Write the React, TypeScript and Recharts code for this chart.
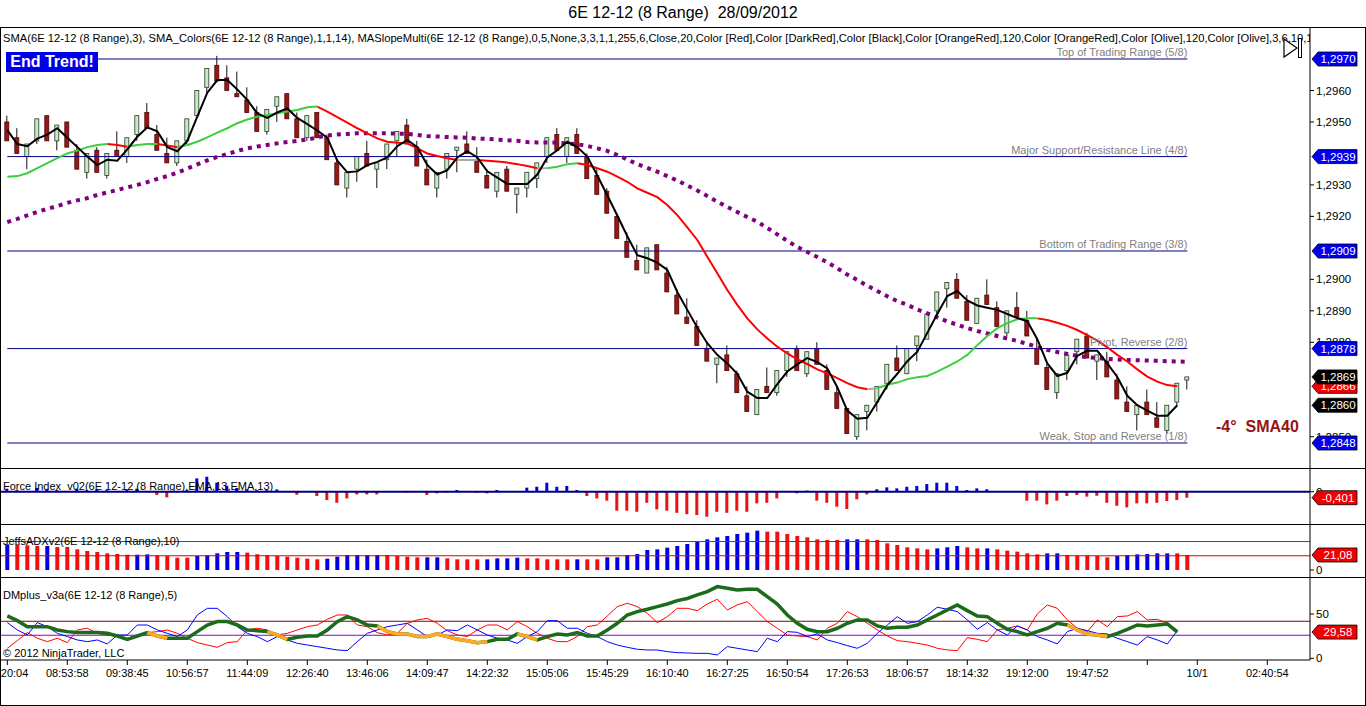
import React from "react";
import {
  ComposedChart,
  Bar,
  Line,
  XAxis,
  YAxis,
  Cell,
  ReferenceLine,
  ReferenceDot,
} from "recharts";

const FONT = '"Liberation Sans", Arial, sans-serif';
const W = 1366;
const X_MIN = -0.73;
const X_MAX = 130.27;

// range bars: [open, high, low, close]
const candles: [number, number, number, number][] = [
  [1.2950, 1.2952, 1.2944, 1.2944], [1.2945, 1.2948, 1.2940, 1.2940], [1.2939, 1.2943, 1.2935, 1.2943],
  [1.2944, 1.2951, 1.2943, 1.2951], [1.2952, 1.2952, 1.2944, 1.2944], [1.2944, 1.2949, 1.2941, 1.2949],
  [1.2950, 1.2950, 1.2942, 1.2942], [1.2941, 1.2943, 1.2935, 1.2935], [1.2934, 1.2940, 1.2932, 1.2940],
  [1.2941, 1.2942, 1.2934, 1.2934], [1.2933, 1.2940, 1.2932, 1.2940], [1.2941, 1.2947, 1.2939, 1.2939],
  [1.2939, 1.2945, 1.2937, 1.2945], [1.2946, 1.2952, 1.2944, 1.2952], [1.2953, 1.2956, 1.2948, 1.2948],
  [1.2946, 1.2949, 1.2941, 1.2941], [1.2940, 1.2945, 1.2937, 1.2937], [1.2937, 1.2944, 1.2936, 1.2944],
  [1.2944, 1.2951, 1.2943, 1.2951], [1.2952, 1.2960, 1.2952, 1.2960], [1.2961, 1.2967, 1.2959, 1.2967],
  [1.2968, 1.2971, 1.2963, 1.2963], [1.2964, 1.2968, 1.2960, 1.2960], [1.2959, 1.2966, 1.2958, 1.2958],
  [1.2957, 1.2961, 1.2953, 1.2953], [1.2953, 1.2955, 1.2947, 1.2947], [1.2947, 1.2954, 1.2946, 1.2954],
  [1.2955, 1.2958, 1.2950, 1.2958], [1.2959, 1.2959, 1.2951, 1.2951], [1.2951, 1.2953, 1.2945, 1.2945],
  [1.2945, 1.2952, 1.2944, 1.2952], [1.2953, 1.2953, 1.2945, 1.2945], [1.2945, 1.2946, 1.2938, 1.2938],
  [1.2937, 1.2938, 1.2930, 1.2930], [1.2929, 1.2934, 1.2926, 1.2934], [1.2935, 1.2939, 1.2931, 1.2939],
  [1.2940, 1.2944, 1.2936, 1.2936], [1.2935, 1.2937, 1.2929, 1.2937], [1.2938, 1.2943, 1.2935, 1.2943],
  [1.2944, 1.2947, 1.2939, 1.2947], [1.2949, 1.2951, 1.2943, 1.2943], [1.2942, 1.2944, 1.2936, 1.2936],
  [1.2935, 1.2938, 1.2930, 1.2930], [1.2929, 1.2934, 1.2926, 1.2934], [1.2935, 1.2940, 1.2932, 1.2940],
  [1.2941, 1.2942, 1.2934, 1.2942], [1.2943, 1.2947, 1.2940, 1.2940], [1.2938, 1.2942, 1.2934, 1.2934],
  [1.2933, 1.2935, 1.2929, 1.2929], [1.2928, 1.2934, 1.2926, 1.2934], [1.2935, 1.2936, 1.2928, 1.2928],
  [1.2927, 1.2929, 1.2921, 1.2929], [1.2929, 1.2934, 1.2926, 1.2934], [1.2932, 1.2937, 1.2929, 1.2937],
  [1.2939, 1.2945, 1.2937, 1.2945], [1.2946, 1.2948, 1.2941, 1.2941], [1.2939, 1.2945, 1.2937, 1.2945],
  [1.2946, 1.2948, 1.2940, 1.2940], [1.2939, 1.2940, 1.2932, 1.2932], [1.2933, 1.2935, 1.2927, 1.2927],
  [1.2928, 1.2929, 1.2921, 1.2921], [1.2920, 1.2921, 1.2913, 1.2913], [1.2912, 1.2915, 1.2907, 1.2907],
  [1.2906, 1.2911, 1.2903, 1.2903], [1.2902, 1.2910, 1.2902, 1.2910], [1.2911, 1.2911, 1.2903, 1.2903],
  [1.2902, 1.2904, 1.2896, 1.2896], [1.2895, 1.2897, 1.2889, 1.2889], [1.2888, 1.2894, 1.2886, 1.2886],
  [1.2885, 1.2887, 1.2879, 1.2879], [1.2878, 1.2880, 1.2874, 1.2874], [1.2873, 1.2875, 1.2867, 1.2875],
  [1.2876, 1.2879, 1.2871, 1.2871], [1.2870, 1.2871, 1.2864, 1.2864], [1.2863, 1.2866, 1.2858, 1.2858],
  [1.2857, 1.2865, 1.2857, 1.2865], [1.2866, 1.2872, 1.2864, 1.2864], [1.2864, 1.2871, 1.2863, 1.2871],
  [1.2871, 1.2877, 1.2869, 1.2877], [1.2878, 1.2879, 1.2871, 1.2871], [1.2870, 1.2877, 1.2869, 1.2877],
  [1.2878, 1.2880, 1.2873, 1.2873], [1.2871, 1.2873, 1.2865, 1.2865], [1.2864, 1.2866, 1.2859, 1.2859],
  [1.2859, 1.2859, 1.2851, 1.2851], [1.2850, 1.2857, 1.2849, 1.2857], [1.2858, 1.2860, 1.2852, 1.2860],
  [1.2861, 1.2866, 1.2858, 1.2866], [1.2867, 1.2873, 1.2865, 1.2873], [1.2875, 1.2879, 1.2871, 1.2871],
  [1.2870, 1.2878, 1.2870, 1.2878], [1.2879, 1.2882, 1.2874, 1.2882], [1.2881, 1.2889, 1.2881, 1.2889],
  [1.2890, 1.2896, 1.2888, 1.2896], [1.2897, 1.2899, 1.2891, 1.2899], [1.2900, 1.2902, 1.2894, 1.2894],
  [1.2893, 1.2895, 1.2887, 1.2887], [1.2886, 1.2894, 1.2886, 1.2894], [1.2895, 1.2900, 1.2892, 1.2892],
  [1.2891, 1.2893, 1.2885, 1.2885], [1.2883, 1.2890, 1.2882, 1.2890], [1.2891, 1.2896, 1.2888, 1.2888],
  [1.2887, 1.2890, 1.2882, 1.2882], [1.2878, 1.2881, 1.2873, 1.2873], [1.2872, 1.2873, 1.2865, 1.2865],
  [1.2864, 1.2870, 1.2862, 1.2870], [1.2871, 1.2876, 1.2868, 1.2876], [1.2877, 1.2881, 1.2873, 1.2881],
  [1.2882, 1.2883, 1.2875, 1.2875], [1.2874, 1.2876, 1.2868, 1.2876], [1.2874, 1.2877, 1.2869, 1.2869],
  [1.2868, 1.2870, 1.2862, 1.2862], [1.2861, 1.2866, 1.2858, 1.2858], [1.2857, 1.2860, 1.2852, 1.2860],
  [1.2861, 1.2865, 1.2857, 1.2857], [1.2856, 1.2861, 1.2853, 1.2853], [1.2852, 1.2860, 1.2851, 1.2860],
  [1.2861, 1.2867, 1.2860, 1.2867], [1.2868, 1.2869, 1.2865, 1.2869],
];

const sma3: (number | null)[] = [
  1.29474, 1.2943, 1.29423, 1.29447, 1.2946, 1.2948, 1.2945, 1.2942, 1.2939, 1.29363,
  1.2938, 1.29377, 1.29413, 1.29453, 1.29483, 1.2947, 1.2942, 1.29407, 1.2944, 1.29517,
  1.29593, 1.29633, 1.29633, 1.29603, 1.2957, 1.29527, 1.29513, 1.2953, 1.29543, 1.29513,
  1.29493, 1.29473, 1.2945, 1.29377, 1.2934, 1.29343, 1.29363, 1.29373, 1.29387, 1.29423,
  1.29443, 1.2942, 1.29363, 1.29333, 1.29347, 1.29387, 1.29407, 1.29387, 1.29343, 1.29323,
  1.29303, 1.29303, 1.29303, 1.29333, 1.29387, 1.2941, 1.29437, 1.2942, 1.2939, 1.2933,
  1.29267, 1.29203, 1.29137, 1.29077, 1.29067, 1.29053, 1.2903, 1.2896, 1.28903, 1.28847,
  1.28797, 1.2876, 1.28733, 1.287, 1.28643, 1.28623, 1.28623, 1.28667, 1.28707, 1.2873,
  1.2875, 1.28737, 1.28717, 1.28657, 1.28583, 1.28557, 1.2856, 1.2861, 1.28663, 1.287,
  1.2874, 1.2877, 1.2883, 1.2889, 1.28947, 1.28963, 1.28933, 1.28917, 1.2891, 1.28903,
  1.2889, 1.28877, 1.28867, 1.2881, 1.28733, 1.28693, 1.28703, 1.28757, 1.28773, 1.28773,
  1.28733, 1.2869, 1.2863, 1.286, 1.28583, 1.28567, 1.28567, 1.286, null,
];

const sma14: (number | null)[] = [
  1.29326, 1.29328, 1.29337, 1.29353, 1.29369, 1.29385, 1.294, 1.29409, 1.2942, 1.29427,
  1.2943, 1.29427, 1.29421, 1.29427, 1.2943, 1.2943, 1.29425, 1.2942, 1.29427, 1.29437,
  1.29451, 1.29466, 1.2948, 1.29496, 1.29508, 1.29517, 1.29522, 1.29528, 1.29533, 1.29538,
  1.29547, 1.29549, 1.29533, 1.29515, 1.29498, 1.2948, 1.29464, 1.29448, 1.29437, 1.29434,
  1.29432, 1.29416, 1.294, 1.29392, 1.29385, 1.29379, 1.29379, 1.29379, 1.29377, 1.29374,
  1.29371, 1.29366, 1.2936, 1.29353, 1.29353, 1.29358, 1.29366, 1.29369, 1.29363, 1.29353,
  1.29342, 1.29326, 1.2931, 1.29289, 1.29275, 1.29261, 1.29236, 1.29204, 1.29165, 1.29125,
  1.29072, 1.29019, 1.28966, 1.28919, 1.28876, 1.28841, 1.28812, 1.28786, 1.28765, 1.28746,
  1.28731, 1.28714, 1.28701, 1.28686, 1.2867, 1.28657, 1.28651, 1.28654, 1.28665, 1.28672,
  1.28683, 1.28689, 1.28693, 1.28707, 1.28723, 1.28739, 1.2876, 1.28791, 1.2882, 1.28845,
  1.28861, 1.28873, 1.28876, 1.28876, 1.28871, 1.28862, 1.28852, 1.28839, 1.28823, 1.28805,
  1.28784, 1.2876, 1.28739, 1.28714, 1.28691, 1.28675, 1.28664, 1.2866, null,
];
const smaGreenRuns = [[0, 10], [12, 15], [17, 31], [54, 57], [87, 103]];
const smaRedRuns = [[10, 12], [15, 17], [31, 45], [47, 53], [57, 86], [103, 117]];
const smaGrayRuns = [[45, 47], [53, 54], [86, 87]];

const sma40: number[] = [
  1.29182, 1.29192, 1.29203, 1.29214, 1.29224, 1.29233, 1.29243, 1.29251, 1.29258, 1.29268,
  1.29276, 1.29284, 1.29292, 1.293, 1.29309, 1.29319, 1.29328, 1.29339, 1.29352, 1.29365,
  1.29378, 1.29389, 1.29398, 1.29408, 1.29416, 1.29422, 1.29427, 1.29432, 1.29436, 1.2944,
  1.29444, 1.29451, 1.29457, 1.2946, 1.29462, 1.29464, 1.29464, 1.29464, 1.29464, 1.29463,
  1.29462, 1.29459, 1.29455, 1.29454, 1.29452, 1.29451, 1.2945, 1.29447, 1.29446, 1.29444,
  1.29442, 1.2944, 1.29436, 1.29435, 1.29435, 1.29434, 1.29432, 1.29429, 1.29424, 1.29416,
  1.29408, 1.29395, 1.29381, 1.29366, 1.29354, 1.29342, 1.29328, 1.29314, 1.29298, 1.29282,
  1.29265, 1.29247, 1.2923, 1.29214, 1.29198, 1.29183, 1.29163, 1.29143, 1.29122, 1.29103,
  1.29087, 1.29071, 1.29054, 1.29035, 1.29015, 1.28998, 1.2898, 1.28963, 1.28946, 1.28931,
  1.28919, 1.28904, 1.28892, 1.28879, 1.28866, 1.28856, 1.28845, 1.28836, 1.28828, 1.2882,
  1.28812, 1.28804, 1.28795, 1.28785, 1.28776, 1.28769, 1.28763, 1.28757, 1.28753, 1.2875,
  1.28747, 1.28745, 1.28744, 1.28743, 1.28742, 1.28741, 1.2874, 1.28739, 1.28738,
];

const levels = [
  { value: 1.297, label: "Top of Trading Range (5/8)" },
  { value: 1.2939, label: "Major Support/Resistance Line (4/8)" },
  { value: 1.2909, label: "Bottom of Trading Range (3/8)" },
  { value: 1.2878, label: "Pivot, Reverse (2/8)" },
  { value: 1.2848, label: "Weak, Stop and Reverse (1/8)" },
];
// axis ticks left visible around the price flags
const priceTicks = [1.285, 1.288, 1.289, 1.29, 1.292, 1.293, 1.295, 1.296];

const force: number[] = [
  0.2, 0.1, 0.05, 0.25, 0.15, 0.1, 0.05, 0.2, 0.1, 0.15,
  0.1, 0.05, 0.15, 0.2, 0.05, -0.22, -0.38, -0.05, 0.1, 0.89,
  1.0, 0.6, 0.4, 0.25, 0.15, 0.1, 0.1, 0.15, 0.02, -0.2,
  -0.02, -0.29, -0.56, -0.74, -0.45, -0.18, -0.18, -0.18, -0.02, 0,
  -0.05, -0.02, -0.22, -0.11, -0.05, 0.11, -0.02, -0.07, -0.11, 0.11,
  0.02, -0.02, 0.27, 0.33, 0.6, 0.33, 0.38, 0.11, -0.29, -0.45,
  -0.6, -1.27, -1.27, -1.34, -0.74, -1.18, -1.27, -1.41, -1.5, -1.56,
  -1.67, -1.34, -1.41, -1.27, -1.34, -0.78, -0.74, -0.45, 0, -0.11,
  0.07, -0.6, -0.74, -1.0, -1.16, -0.51, -0.18, 0.16, 0.29, 0.22,
  0.33, 0.38, 0.51, 0.6, 0.6, 0.38, 0.11, 0.22, 0.16, 0.02,
  0, 0, -0.6, -0.6, -0.85, -0.6, -0.29, -0.22, -0.33, -0.27,
  -0.74, -0.94, -1.05, -0.78, -0.78, -0.74, -0.62, -0.56, -0.401,
];

const adx: number[] = [
  36.1, 36.1, 34.7, 33.7, 33.7, 32.3, 32.3, 29.0, 26.7, 25.3,
  23.4, 22.5, 21.5, 21.5, 22.0, 20.6, 19.7, 17.3, 17.3, 19.7,
  20.6, 23.4, 25.3, 25.3, 24.4, 22.0, 20.6, 19.7, 18.7, 17.3,
  15.9, 15.0, 15.9, 18.7, 21.1, 21.1, 21.1, 21.1, 21.1, 19.7,
  18.7, 17.8, 17.8, 17.8, 16.4, 15.0, 15.0, 15.0, 15.0, 16.4,
  16.4, 17.3, 16.4, 16.4, 15.0, 15.0, 15.0, 15.0, 15.0, 15.0,
  17.8, 17.8, 21.1, 22.5, 28.1, 29.0, 31.4, 33.7, 36.5, 39.8,
  43.1, 45.9, 47.8, 50.6, 52.5, 55.3, 53.9, 53.9, 50.6, 47.8,
  45.9, 43.1, 42.2, 42.2, 43.1, 43.1, 43.1, 42.2, 37.5, 35.1,
  31.9, 30.4, 29.0, 30.4, 31.9, 33.7, 31.9, 30.4, 30.4, 29.0,
  27.2, 25.8, 23.4, 22.0, 23.4, 23.4, 21.1, 20.1, 20.1, 19.7,
  17.8, 19.7, 21.1, 22.0, 22.5, 23.4, 23.4, 23.4, 21.08,
];
// 1 = blue bar, 0 = red bar
const adxBlue: number[] = [
  1, 0, 0, 0, 1, 0, 0, 0, 0, 0,
  0, 0, 0, 1, 1, 0, 0, 0, 0, 1,
  1, 1, 1, 1, 0, 0, 0, 0, 0, 0,
  0, 0, 1, 1, 1, 1, 1, 1, 0, 0,
  0, 0, 1, 1, 0, 0, 0, 0, 1, 1,
  1, 1, 0, 0, 0, 0, 0, 1, 0, 0,
  1, 1, 1, 1, 1, 1, 1, 1, 1, 1,
  1, 1, 1, 1, 1, 1, 0, 0, 0, 0,
  0, 0, 0, 0, 1, 1, 0, 0, 0, 0,
  0, 0, 0, 1, 1, 1, 0, 0, 1, 0,
  0, 0, 0, 0, 1, 1, 0, 0, 0, 0,
  0, 1, 1, 1, 1, 1, 1, 0, 0,
];

const dmBlue: (number | null)[] = [
  40.3, 32.0, 26.3, 40.3, 35.7, 28.2, 24.5, 20.7, 18.8, 20.7,
  16.2, 26.3, 26.3, 37.6, 37.6, 32.0, 28.2, 24.5, 32.0, 48.9,
  56.4, 56.4, 47.0, 35.7, 28.2, 24.5, 18.8, 24.5, 20.7, 16.9,
  15.0, 13.2, 11.3, 9.4, 8.7, 18.8, 28.2, 32.0, 35.7, 37.6,
  39.5, 32.0, 24.5, 26.3, 32.0, 31.2, 37.6, 32.0, 26.3, 22.6,
  20.7, 16.9, 24.5, 30.1, 42.5, 42.5, 33.9, 33.9, 28.2, 24.5,
  18.8, 15.0, 12.4, 10.2, 9.4, 9.4, 7.5, 6.4, 6.0, 5.6,
  5.6, 3.8, 13.2, 11.3, 9.4, 7.5, 22.6, 18.8, 30.1, 29.3,
  24.5, 27.5, 20.7, 17.7, 14.3, 11.3, 16.9, 28.2, 37.6, 47.0,
  39.5, 41.4, 48.9, 57.6, 55.3, 52.7, 43.3, 32.7, 40.3, 32.0,
  26.3, 36.5, 32.0, 24.5, 20.7, 16.2, 30.1, 33.9, 31.2, 28.2,
  27.5, 22.6, 18.8, 15.0, 24.5, 20.7, 16.2, 31.2, null,
];
const dmRed: (number | null)[] = [
  11.3, 19.9, 29.0, 22.6, 18.8, 22.6, 17.7, 32.0, 33.9, 28.2,
  26.3, 24.5, 20.7, 24.5, 29.0, 30.1, 32.0, 28.2, 22.6, 17.7,
  15.0, 12.4, 17.7, 18.8, 32.0, 33.9, 32.0, 26.3, 28.2, 32.0,
  35.7, 37.6, 44.0, 48.9, 48.9, 37.6, 35.7, 29.0, 26.3, 28.2,
  39.5, 43.3, 45.1, 39.5, 31.2, 26.3, 24.5, 32.0, 37.6, 37.6,
  32.0, 41.4, 35.7, 28.2, 22.6, 18.8, 18.8, 24.5, 35.7, 37.6,
  47.8, 58.3, 62.1, 58.3, 50.8, 40.3, 47.0, 56.4, 56.4, 53.8,
  61.3, 66.6, 54.6, 60.2, 64.0, 52.7, 41.4, 33.9, 26.3, 25.2,
  24.5, 20.7, 33.9, 39.5, 52.7, 47.0, 39.5, 32.0, 25.2, 19.9,
  18.8, 16.9, 15.0, 11.3, 9.4, 8.7, 23.3, 21.4, 18.8, 32.0,
  33.9, 36.5, 32.0, 50.0, 60.2, 56.4, 43.3, 33.9, 30.1, 43.3,
  35.7, 47.0, 47.8, 52.7, 43.3, 44.0, 39.5, 32.0, null,
];
const dmGreen: (number | null)[] = [
  47.8, 42.5, 35.7, 35.7, 35.7, 32.0, 30.1, 29.0, 29.0, 29.0,
  28.2, 25.2, 21.4, 25.2, 29.0, 25.2, 22.6, 22.6, 22.6, 30.1,
  37.6, 41.4, 41.4, 37.6, 32.0, 31.2, 30.1, 26.3, 21.4, 23.7,
  25.2, 25.2, 32.0, 41.4, 47.0, 43.3, 37.6, 36.5, 30.1, 27.5,
  27.5, 24.5, 24.5, 27.5, 24.5, 21.4, 19.9, 17.7, 18.8, 21.4,
  21.4, 27.5, 24.5, 20.7, 24.5, 27.5, 26.3, 29.0, 25.2, 25.2,
  32.0, 39.5, 48.9, 52.7, 55.3, 58.3, 61.3, 65.1, 67.5, 71.5,
  75.2, 80.9, 79.0, 77.1, 77.9, 77.9, 69.6, 61.3, 48.9, 39.5,
  32.7, 30.1, 30.1, 33.9, 39.5, 43.3, 43.3, 36.5, 33.9, 35.0,
  35.0, 37.6, 43.3, 48.9, 54.6, 60.2, 53.8, 47.8, 47.0, 39.5,
  32.7, 30.1, 26.3, 30.1, 33.9, 39.5, 37.6, 32.0, 27.5, 26.3,
  24.5, 28.2, 32.7, 37.6, 36.5, 37.6, 38.8, 29.58, null,
];
const dmOrangeRuns = [[14, 16], [26, 28], [37, 39], [40, 42], [43, 48], [51, 53], [106, 110]];

const timeTicks = [0, 6, 12, 18, 24, 30, 36, 42, 48, 54, 60, 66, 72, 78, 84, 90, 96, 102, 108, 114, 119, 126];
const timeLabels = [
  "20:04", "08:53:58", "09:38:45", "10:56:57", "11:44:09", "12:26:40", "13:46:06", "14:09:47",
  "14:22:32", "15:05:06", "15:45:29", "16:10:40", "16:27:25", "16:50:54", "17:26:53", "18:06:57",
  "18:14:32", "19:12:00", "19:47:52", "", "10/1", "02:40:54",
];

const inRuns = (i: number, runs: number[][]) => runs.some(([a, b]) => i >= a && i <= b);

const rows = candles.map((c, i) => ({
  i,
  open: c[0],
  high: c[1],
  low: c[2],
  close: c[3],
  sma3: sma3[i],
  smaG: inRuns(i, smaGreenRuns) ? sma14[i] : null,
  smaR: inRuns(i, smaRedRuns) ? sma14[i] : null,
  smaY: inRuns(i, smaGrayRuns) ? sma14[i] : null,
  sma40: sma40[i],
  force: force[i],
  adx: adx[i],
  dmBlue: dmBlue[i],
  dmRed: dmRed[i],
  dmGreen: dmGreen[i],
  dmOrange: inRuns(i, dmOrangeRuns) ? dmGreen[i] : null,
}));

const comma = (v: number, d: number) => v.toFixed(d).replace(".", ",");

const PRICE_DOMAIN = [1.284006, 1.298017];
const FORCE_DOMAIN = [-2.158, 1.516];
const ADX_DOMAIN = [-9.84, 63.24];
const DM_DOMAIN = [-1.92, 90.63];

const Candle = (p: any) => {
  const { x, y, width, height, payload } = p;
  const top = Math.min(y, y + height);
  const h = Math.abs(height);
  const span = payload.high - payload.low;
  const toY = (v: number) => top + (span === 0 ? 0 : ((payload.high - v) / span) * h);
  const cx = x + width / 2;
  const up = payload.close > payload.open;
  const b0 = toY(Math.max(payload.open, payload.close));
  const b1 = toY(Math.min(payload.open, payload.close));
  return (
    <g>
      <line x1={cx} x2={cx} y1={top} y2={top + h} stroke="#111" strokeWidth={1} />
      <rect
        x={cx - 2}
        y={b0}
        width={4}
        height={Math.max(1, b1 - b0)}
        fill={up ? "#c6ecc6" : "#9c1616"}
        stroke={up ? "#2a3a2a" : "#4a0808"}
        strokeWidth={0.8}
      />
    </g>
  );
};

const flag = (text: string, fill: string) => (p: any) => {
  const x0 = p.cx + 2;
  const cy = p.cy;
  return (
    <g>
      <polygon
        points={`${x0},${cy} ${x0 + 6},${cy - 7} ${x0 + 45},${cy - 7} ${x0 + 45},${cy + 7} ${x0 + 6},${cy + 7}`}
        fill={fill}
        stroke="#000"
        strokeWidth={0.8}
      />
      <text x={x0 + 26} y={cy + 4} textAnchor="middle" fill="#fff" fontSize={11.5} fontFamily={FONT}>
        {text}
      </text>
    </g>
  );
};

const levelLabel = (text: string) => (p: any) => (
  <text x={p.cx} y={p.cy - 3} textAnchor="end" fill="#808080" fontSize={11} fontFamily={FONT}>
    {text}
  </text>
);

const TimeTick = (p: any) => {
  const idx = timeTicks.indexOf(p.payload.value);
  const first = idx === 0;
  return (
    <text
      x={first ? p.x + 21 : p.x}
      y={p.y + 10}
      textAnchor={first ? "end" : "middle"}
      fontSize={11}
      fontFamily={FONT}
      fill="#000"
    >
      {idx >= 0 ? timeLabels[idx] : ""}
    </text>
  );
};

const axisTick = { fontSize: 11.5, fill: "#000", fontFamily: FONT };
const noMargin = { top: 0, right: 0, bottom: 0, left: 0 };

type FlagSpec = { value: number; text: string; fill: string };

// value flags drawn in their own layer so they sit on top of the axis ticks
const FlagLayer = ({ height, domain, flags }: { height: number; domain: number[]; flags: FlagSpec[] }) => (
  <ComposedChart width={W} height={height} data={rows} margin={{ top: 0, right: 56, bottom: 0, left: 0 }}>
    <XAxis dataKey="i" type="number" domain={[X_MIN, X_MAX]} allowDataOverflow hide />
    <YAxis domain={domain} allowDataOverflow hide />
    {flags.map((f, k) => (
      <ReferenceDot key={k} x={X_MAX} y={f.value} r={0} ifOverflow="visible" shape={flag(f.text, f.fill)} />
    ))}
  </ComposedChart>
);

const priceFlags: FlagSpec[] = [
  ...levels.map((l) => ({ value: l.value, text: comma(l.value, 4), fill: "#0000f0" })),
  { value: sma14[117] as number, text: comma(sma14[117] as number, 4), fill: "#f00000" },
  { value: candles[118][3], text: comma(candles[118][3], 4), fill: "#000" },
  { value: sma3[117] as number, text: comma(sma3[117] as number, 4), fill: "#000" },
];

const textStyle: React.CSSProperties = {
  position: "absolute",
  fontFamily: FONT,
  fontSize: 11,
  lineHeight: "13px",
  color: "#000",
  whiteSpace: "pre",
  pointerEvents: "none",
};

const layer = (top: number): React.CSSProperties => ({ position: "absolute", top, left: 0 });

export default function App() {
  return (
    <div style={{ position: "relative", width: W, height: 706, background: "#fff", overflow: "hidden", fontFamily: FONT }}>
      <style>{"body{margin:0;background:#fff}"}</style>

      <div style={{ ...textStyle, top: 3, left: 0, width: W, textAlign: "center", fontSize: 16, lineHeight: "20px" }}>
        {"6E 12-12 (8 Range)  28/09/2012"}
      </div>

      {/* price panel */}
      <div style={layer(27)}>
        <ComposedChart width={W} height={441} data={rows} margin={noMargin}>
          <XAxis dataKey="i" type="number" domain={[X_MIN, X_MAX]} allowDataOverflow hide />
          <YAxis
            orientation="right"
            width={56}
            domain={PRICE_DOMAIN}
            allowDataOverflow
            ticks={priceTicks}
            interval={0}
            tickFormatter={(v: number) => comma(v, 4)}
            tick={axisTick}
            tickSize={4}
            axisLine={{ stroke: "#000" }}
            tickLine={{ stroke: "#000" }}
          />
          {levels.map((l) => (
            <ReferenceLine
              key={l.value}
              segment={[{ x: 0, y: l.value }, { x: 118, y: l.value }]}
              stroke="#00008b"
              strokeWidth={1}
            />
          ))}
          {levels.map((l) => (
            <ReferenceDot key={"t" + l.value} x={118} y={l.value} r={0} ifOverflow="visible" shape={levelLabel(l.label)} />
          ))}
          <Bar
            dataKey={(d: any) => [d.low, d.high]}
            barSize={5}
            shape={(p: any) => <Candle {...p} />}
            isAnimationActive={false}
          />
          <Line dataKey="sma40" stroke="#800080" strokeWidth={4} strokeDasharray="4 5" dot={false} isAnimationActive={false} />
          <Line dataKey="smaR" stroke="#ff0000" strokeWidth={2} dot={false} isAnimationActive={false} />
          <Line dataKey="smaG" stroke="#3ccf3c" strokeWidth={2} dot={false} isAnimationActive={false} />
          <Line dataKey="smaY" stroke="#a8a8a8" strokeWidth={2} dot={false} isAnimationActive={false} />
          <Line dataKey="sma3" stroke="#000" strokeWidth={2} dot={false} isAnimationActive={false} />
        </ComposedChart>
      </div>
      <div style={layer(27)}>
        <FlagLayer height={441} domain={PRICE_DOMAIN} flags={priceFlags} />
      </div>

      {/* force index panel */}
      <div style={layer(469)}>
        <ComposedChart width={W} height={55} data={rows} margin={noMargin}>
          <XAxis dataKey="i" type="number" domain={[X_MIN, X_MAX]} allowDataOverflow hide />
          <YAxis
            orientation="right"
            width={56}
            domain={FORCE_DOMAIN}
            allowDataOverflow
            ticks={[0]}
            tick={axisTick}
            tickSize={4}
            axisLine={{ stroke: "#000" }}
            tickLine={{ stroke: "#000" }}
          />
          <Bar dataKey="force" barSize={3} isAnimationActive={false}>
            {rows.map((r) => (
              <Cell key={r.i} fill={r.force >= 0 ? "#0000e6" : "#f01010"} />
            ))}
          </Bar>
          <ReferenceLine y={0} stroke="#00007a" strokeWidth={2} />
        </ComposedChart>
      </div>
      <div style={layer(469)}>
        <FlagLayer height={55} domain={FORCE_DOMAIN} flags={[{ value: force[118], text: comma(force[118], 3), fill: "#f00000" }]} />
      </div>

      {/* adx panel */}
      <div style={layer(525)}>
        <ComposedChart width={W} height={52} data={rows} margin={noMargin}>
          <XAxis dataKey="i" type="number" domain={[X_MIN, X_MAX]} allowDataOverflow hide />
          <YAxis
            orientation="right"
            width={56}
            domain={ADX_DOMAIN}
            allowDataOverflow
            ticks={[0]}
            tick={axisTick}
            tickSize={4}
            axisLine={{ stroke: "#000" }}
            tickLine={{ stroke: "#000" }}
          />
          <ReferenceLine y={40} stroke="#008000" strokeWidth={1} />
          <ReferenceLine y={20} stroke="#e00000" strokeWidth={1} />
          <Bar dataKey="adx" barSize={4} isAnimationActive={false}>
            {rows.map((r) => (
              <Cell key={r.i} fill={adxBlue[r.i] ? "#0000e6" : "#f01010"} />
            ))}
          </Bar>
        </ComposedChart>
      </div>
      <div style={layer(525)}>
        <FlagLayer height={52} domain={ADX_DOMAIN} flags={[{ value: adx[118], text: comma(adx[118], 2), fill: "#f00000" }]} />
      </div>

      {/* dmplus panel + time axis */}
      <div style={layer(578)}>
        <ComposedChart width={W} height={110} data={rows} margin={noMargin}>
          <XAxis
            dataKey="i"
            type="number"
            domain={[X_MIN, X_MAX]}
            allowDataOverflow
            ticks={timeTicks}
            interval={0}
            tick={<TimeTick />}
            tickSize={5}
            height={28}
            axisLine={{ stroke: "#000" }}
            tickLine={{ stroke: "#000" }}
          />
          <YAxis
            orientation="right"
            width={56}
            domain={DM_DOMAIN}
            allowDataOverflow
            ticks={[0, 50]}
            interval={0}
            tick={axisTick}
            tickSize={4}
            axisLine={{ stroke: "#000" }}
            tickLine={{ stroke: "#000" }}
          />
          <ReferenceLine y={41.8} stroke="#800000" strokeWidth={1} />
          <ReferenceLine y={26} stroke="#9400d3" strokeWidth={1} />
          <Line dataKey="dmRed" stroke="#ff0000" strokeWidth={1} dot={false} isAnimationActive={false} />
          <Line dataKey="dmBlue" stroke="#0000ff" strokeWidth={1} dot={false} isAnimationActive={false} />
          <Line dataKey="dmGreen" stroke="#1b6b1b" strokeWidth={3.5} dot={false} isAnimationActive={false} />
          <Line dataKey="dmOrange" stroke="#ffa820" strokeWidth={3.5} dot={false} isAnimationActive={false} />
        </ComposedChart>
      </div>
      <div style={layer(578)}>
        <FlagLayer height={82} domain={DM_DOMAIN} flags={[{ value: dmGreen[117] as number, text: comma(dmGreen[117] as number, 2), fill: "#f00000" }]} />
      </div>

      {/* texts */}
      <div style={{ ...textStyle, top: 32, left: 3, width: 1307, overflow: "hidden", fontSize: 11.2 }}>
        {"SMA(6E 12-12 (8 Range),3), SMA_Colors(6E 12-12 (8 Range),1,1,14), MASlopeMulti(6E 12-12 (8 Range),0,5,None,3,3,1,1,255,6,Close,20,Color [Red],Color [DarkRed],Color [Black],Color [OrangeRed],120,Color [OrangeRed],Color [Olive],120,Color [Olive],3,6,10,1"}
      </div>
      <div
        style={{
          ...textStyle,
          top: 52,
          left: 6,
          width: 92,
          height: 20,
          background: "#0000e6",
          color: "#fff",
          fontWeight: "bold",
          fontSize: 16,
          lineHeight: "20px",
          textAlign: "center",
        }}
      >
        End Trend!
      </div>
      <div style={{ ...textStyle, top: 417, left: 1216, color: "#961414", fontWeight: "bold", fontSize: 16, lineHeight: "20px" }}>
        {"-4°  SMA40"}
      </div>
      <div style={{ ...textStyle, top: 480, left: 3 }}>{"Force Index_v02(6E 12-12 (8 Range),EMA,13,EMA,13)"}</div>
      <div style={{ ...textStyle, top: 535, left: 3 }}>{"JeffsADXv2(6E 12-12 (8 Range),10)"}</div>
      <div style={{ ...textStyle, top: 589, left: 3 }}>{"DMplus_v3a(6E 12-12 (8 Range),5)"}</div>
      <div style={{ ...textStyle, top: 647, left: 3 }}>{"© 2012 NinjaTrader, LLC"}</div>

      {/* frame */}
      <svg width={W} height={706} style={{ position: "absolute", top: 0, left: 0, pointerEvents: "none" }}>
        <g stroke="#000" strokeWidth={1}>
          <line x1={0} x2={W} y1={27.5} y2={27.5} />
          <line x1={0} x2={W} y1={468.5} y2={468.5} />
          <line x1={0} x2={W} y1={524.5} y2={524.5} />
          <line x1={0} x2={W} y1={577.5} y2={577.5} />
          <line x1={0} x2={W} y1={705.5} y2={705.5} />
          <line x1={0.5} x2={0.5} y1={27} y2={706} />
          <line x1={1365.5} x2={1365.5} y1={27} y2={706} />
        </g>
        <polygon points="1284,39 1297,48 1284,57" fill="#fff" stroke="#000" strokeWidth={1.2} />
        <rect x={1298.5} y={38.5} width={3} height={19} fill="#fff" stroke="#000" strokeWidth={1} />
      </svg>
    </div>
  );
}
